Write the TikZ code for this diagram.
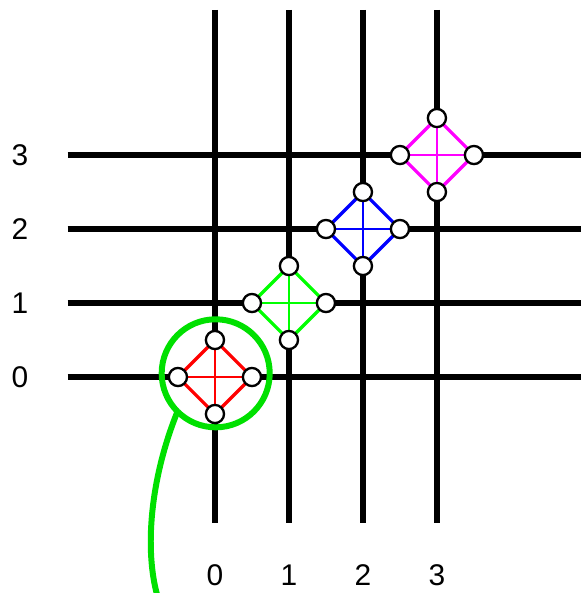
\documentclass[tikz,border=0pt]{standalone}
\usepackage{fontspec}
\setmainfont{Liberation Sans}
\usepackage{xcolor}
\usetikzlibrary{positioning,calc}
\definecolor{dmred}{HTML}{FF0000}
\definecolor{dmgreen}{HTML}{00FF00}
\definecolor{dmblue}{HTML}{0000FF}
\definecolor{dmpink}{HTML}{FF00FF}
\definecolor{ringgreen}{HTML}{00E000}

\begin{document}
\begin{tikzpicture}[
  x=2cm, y=2cm,
  every node/.append style={font=\fontsize{23}{26}\selectfont},
  gridline/.style={line width=4.6pt, black},
  port/.style={circle, draw=black, fill=white, line width=1.8pt, minimum size=0.49cm, inner sep=0pt},
  rim/.style={line width=2.5pt, fill=white},
  cross/.style={line width=1.5pt},
  ring/.style={circle, draw=ringgreen, line width=4.6pt, minimum size=2.92cm, inner sep=0pt, outer sep=0pt}
]
\useasboundingbox (-2.905,-2.919) rectangle (4.946,5.095);
% grid
\foreach \i in {0,...,3} {
  \coordinate (vt\i) at (\i, 4.96);
  \coordinate (vb\i) at (\i, -1.97);
  \coordinate (hl\i) at (-1.99, \i);
  \coordinate (hr\i) at (4.96, \i);
  \draw[gridline] (vt\i) -- (vb\i);
  \draw[gridline] (hl\i) -- (hr\i);
  \node (ly\i) at (-2.635, \i) {\i};
  \node (lx\i) at (\i, -2.68) {\i};
}
% diamonds
\foreach \i/\c in {0/dmred, 1/dmgreen, 2/dmblue, 3/dmpink} {
  \coordinate (c\i n) at (\i, \i+0.5);
  \coordinate (c\i e) at (\i+0.5, \i);
  \coordinate (c\i s) at (\i, \i-0.5);
  \coordinate (c\i w) at (\i-0.5, \i);
  \draw[rim, draw=\c] (c\i n) -- (c\i e) -- (c\i s) -- (c\i w) -- cycle;
  \draw[cross, draw=\c] (c\i n) -- (c\i s);
  \draw[cross, draw=\c] (c\i w) -- (c\i e);
  \node[port] (d\i n) at (c\i n) {};
  \node[port] (d\i e) at (c\i e) {};
  \node[port] (d\i s) at (c\i s) {};
  \node[port] (d\i w) at (c\i w) {};
}
% highlight
\node[ring] (hl) at (0.01, 0.05) {};
\coordinate (tail) at (-0.78, -2.95);
\draw[ringgreen, line width=4.6pt] (hl.225) .. controls (-0.88,-1.39) and (-0.95,-2.34) .. (tail);
\end{tikzpicture}
\end{document}
